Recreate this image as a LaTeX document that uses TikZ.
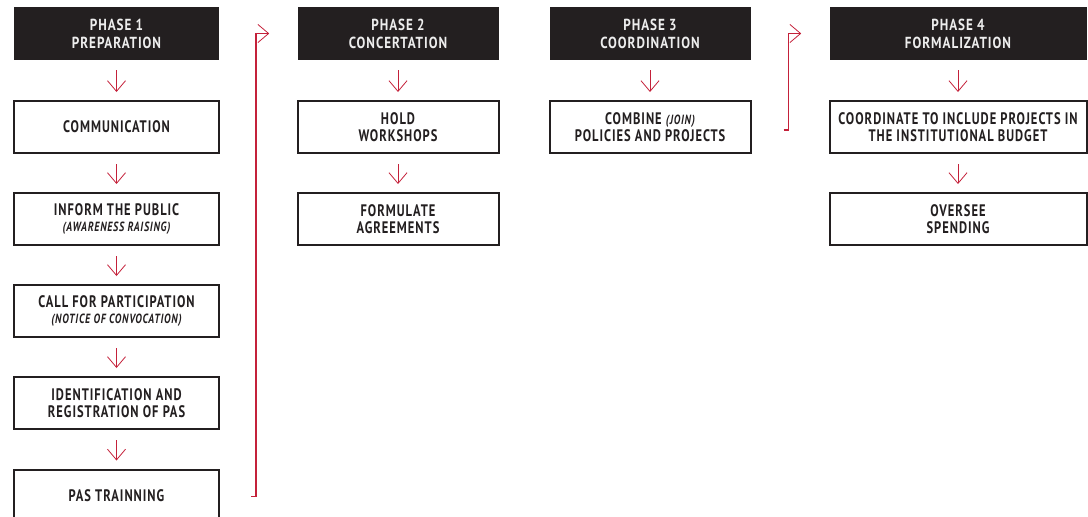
\documentclass[tikz,border=0pt]{standalone}
\usepackage{fontspec}
\setmainfont{PT Sans}[FakeStretch=0.82,LetterSpace=6]
\newfontfamily\boxfont{PT Sans}[FakeStretch=0.75,LetterSpace=6]
\usetikzlibrary{arrows.meta}
\definecolor{ink}{HTML}{231F20}
\definecolor{hdtext}{HTML}{EDEDED}
\definecolor{redc}{HTML}{C4213A}
\tikzset{
  hdr/.style={fill=ink, text=hdtext, font=\bfseries\fontsize{12}{13.5}\selectfont, align=center, minimum height=39.75pt, inner sep=0pt},
  stepbox/.style={draw=ink, line width=1.5pt, fill=white, text=ink, font=\boxfont\bfseries\fontsize{12.5}{12.8}\selectfont, align=center, minimum height=39pt, inner sep=0pt},
  w1/.style={minimum width=153.75pt},
  w2/.style={minimum width=150.75pt},
  w4/.style={minimum width=192.75pt},
  down/.style={draw=redc, line width=0.6pt, -{Straight Barb[length=8pt,width=13.5pt,line width=0.6pt]}},
  loopc/.style={draw=redc, line width=0.8pt, -{Straight Barb[length=8pt,width=13.5pt,line width=0.6pt]}},
}
\newcommand{\sub}[1]{\\[-0.5pt]{\fontsize{10}{10}\selectfont\itshape #1}}
\begin{document}
\begin{tikzpicture}[x=0.75pt,y=-0.75pt]
\useasboundingbox (0,0) rectangle (1088,517);
% column 1
\node[hdr,w1] (h1) at (116.5,33.5) {PHASE 1\\PREPARATION};
\node[stepbox,w1] (a1) at (116.5,127) {COMMUNICATION};
\node[stepbox,w1] (a2) at (116.5,219) {INFORM THE PUBLIC\sub{(AWARENESS RAISING)}};
\node[stepbox,w1] (a3) at (116.5,311) {CALL FOR PARTICIPATION\sub{(NOTICE OF CONVOCATION)}};
\node[stepbox,w1] (a4) at (116.5,403) {IDENTIFICATION AND\\REGISTRATION OF PAS};
\node[stepbox,w1] (a5) at (116.5,495.5) {PAS TRAINNING};
% column 2
\node[hdr,w2] (h2) at (398,33.5) {PHASE 2\\CONCERTATION};
\node[stepbox,w2] (b1) at (398,127) {HOLD\\WORKSHOPS};
\node[stepbox,w2] (b2) at (398,219) {FORMULATE\\AGREEMENTS};
% column 3
\node[hdr,w2] (h3) at (650,33.5) {PHASE 3\\COORDINATION};
\node[stepbox,w2] (c1) at (650,127) {COMBINE {\fontsize{10}{10}\selectfont\itshape (JOIN)}\\POLICIES AND PROJECTS};
% column 4
\node[hdr,w4] (h4) at (958,33.5) {PHASE 4\\FORMALIZATION};
\node[stepbox,w4] (d1) at (958,127) {COORDINATE TO INCLUDE PROJECTS IN\\THE INSTITUTIONAL BUDGET};
\node[stepbox,w4] (d2) at (958,219) {OVERSEE\\SPENDING};
% down arrows
\foreach \u/\v in {h1/a1,a1/a2,a2/a3,a3/a4,a4/a5,h2/b1,b1/b2,h3/c1,h4/d1,d1/d2}
  \draw[down] ([yshift=-7.5pt]\u.south) -- ([yshift=6pt]\v.north);
% phase connectors
\draw[loopc] ([xshift=23.25pt,yshift=-0.5pt]a5.east) -- ++(3.75pt,0) |- ([xshift=-21pt]h2.west);
\draw[loopc] ([xshift=24pt,yshift=-2.25pt]c1.east) -- ++(3.75pt,0) |- ([xshift=-21pt]h4.west);
\end{tikzpicture}
\end{document}
